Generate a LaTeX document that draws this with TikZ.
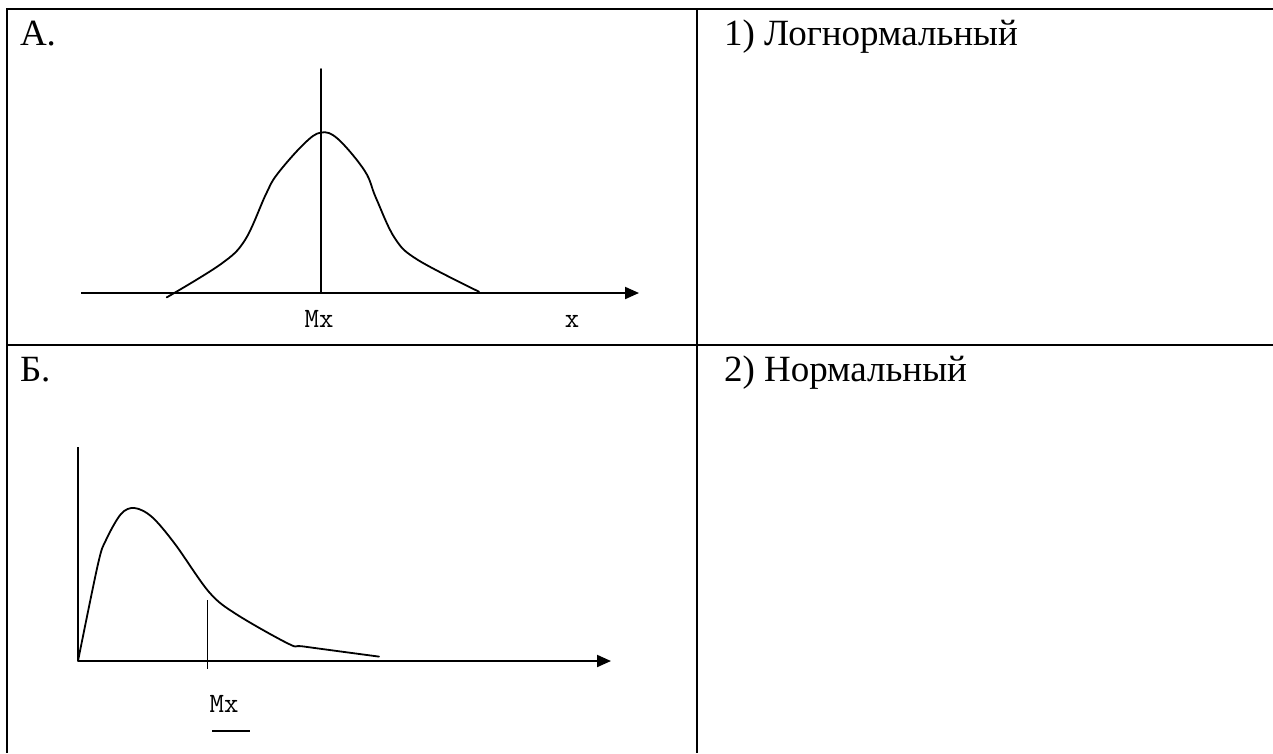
\documentclass[tikz,border=0pt]{standalone}
\usepackage{fontspec}
\setmainfont{Liberation Serif}
\usetikzlibrary{arrows.meta}

\begin{document}
\begin{tikzpicture}[
  x=1pt, y=-1pt,
  every node/.style={inner sep=0pt, outer sep=0pt},
  cell/.style={anchor=base west, font=\fontsize{37}{44}\selectfont},
  tag/.style={anchor=base, font=\ttfamily\fontsize{28}{32}\selectfont},
  rule/.style={line width=2pt},
  axis/.style={line width=2pt, -{Triangle[length=14pt,width=12pt]}},
  curve/.style={line width=1.8pt, line join=round, line cap=round},
]
\useasboundingbox (0,0) rectangle (1273,753);

% ---------------------------------------------------------------- table
\def\xl{7}    % left edge
\def\xm{697}  % column split
\def\xr{1273} % runs off the right
\def\yt{9}    % top edge
\def\ym{345}  % row split
\def\yb{753}  % runs off the bottom

\draw[rule] (\xr,\yt) -- (\xl,\yt) -- (\xl,\yb);
\draw[rule] (\xm,\yt) -- (\xm,\yb);
\draw[rule] (\xl,\ym) -- (\xr,\ym);

\node[cell] (lA) at (20,45)  {А.};
\node[cell] (l1) at (724,45) {1) Логнормальный};
\node[cell] (lB) at (20,381) {Б.};
\node[cell] (l2) at (724,381) {2) Нормальный};

% ---------------------------------------------------------------- chart A
\coordinate (A0) at (81,293);
\coordinate (A1) at (639,293);
\coordinate (Atop) at (321,69);
\coordinate (Amid) at (321,293);

\draw[axis] (A0) -- (A1);
\draw[curve] (Atop) -- (Amid);
\draw[curve] plot[smooth, tension=0.6] coordinates {
  (166.7,297.4) (221,264) (245,240) (265.7,194.7) (277,174.5)
  (303.8,144) (321,132.5) (338,139) (364.8,171) (376,198)
  (395,238.5) (418,260) (479,291.7)};

\node[tag] (mxA) at (319,327) {Mx};
\node[tag] (xA)  at (572,327) {x};

% ---------------------------------------------------------------- chart B
\coordinate (B0) at (78,661);
\coordinate (B1) at (611,661);
\coordinate (Btop) at (78,447);
\coordinate (Bt1) at (207,600);
\coordinate (Bt2) at (207,669);

\draw[rule] (Btop) -- (B0);
\draw[axis] (B0) -- (B1);
\draw[line width=1pt] (Bt1) -- (Bt2);
\draw[curve] plot[smooth, tension=0.55] coordinates {
  (78,661) (98,564) (106,540) (121,514) (134.5,508) (152,517)
  (175,544) (209,592) (236,614) (289,644) (304.5,646.6) (379,656.6)};

\node[tag] (mxB) at (224,712) {Mx};
\coordinate (u1) at (212,731);
\coordinate (u2) at (250,731);
\draw[rule] (u1) -- (u2);

\end{tikzpicture}
\end{document}
